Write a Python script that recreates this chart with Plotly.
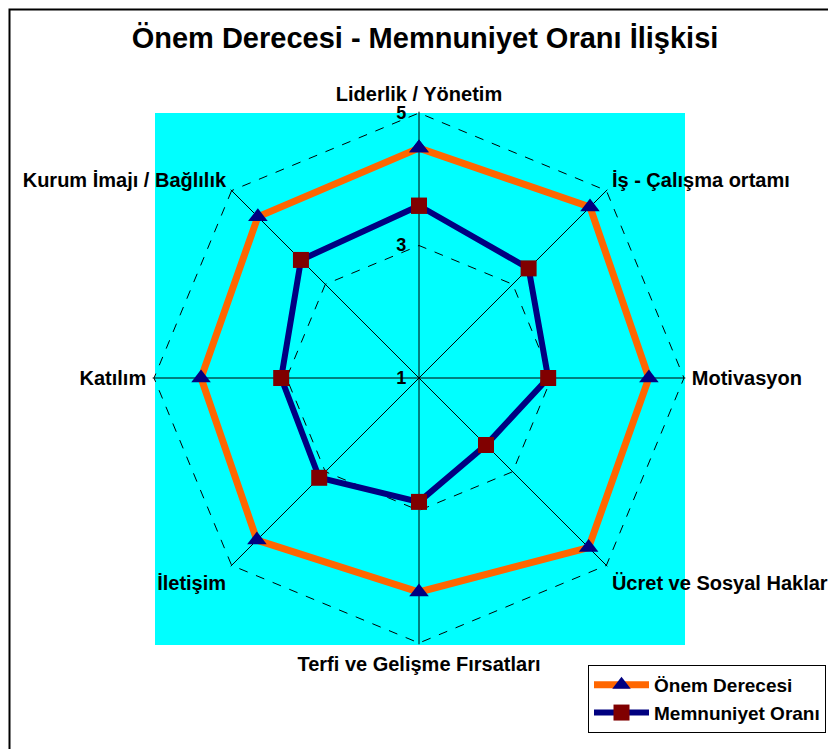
import plotly.graph_objects as go

categories = ["Liderlik / Yönetim", "İş - Çalışma ortamı", "Motivasyon",
              "Ücret ve Sosyal Haklar", "Terfi ve Gelişme Fırsatları",
              "İletişim", "Katılım", "Kurum İmajı / Bağlılık"]
onem = [4.47, 4.65, 4.47, 4.62, 4.23, 4.46, 4.29, 4.44]
memnuniyet = [3.60, 3.34, 2.95, 2.43, 2.87, 3.13, 3.08, 3.52]
radial_ticks = [1, 3, 5]

W, H = 836, 749
OFF = 8  # page body margin
def px(x): return (x - OFF) / W
def py(y): return 1 - (y - OFF) / H

RMAX = 5.02
cx, cy, r5 = 419, 378, 265
rad = r5 * (RMAX - 1) / 4

fig = go.Figure()
fig.add_trace(go.Scatterpolar(
    r=onem + onem[:1], theta=categories + categories[:1],
    mode="lines+markers", name="<b>Önem Derecesi</b>",
    line=dict(color="#FF6600", width=7),
    marker=dict(symbol="triangle-up", size=17, color="#000080"),
))
fig.add_trace(go.Scatterpolar(
    r=memnuniyet + memnuniyet[:1], theta=categories + categories[:1],
    mode="lines+markers", name="<b>Memnuniyet Oranı</b>",
    line=dict(color="#000080", width=6),
    marker=dict(symbol="square", size=16, color="#800000"),
))

fam = "Liberation Sans, Arial"

fig.update_layout(
    width=W, height=H,
    margin=dict(l=0, r=0, t=0, b=0),
    paper_bgcolor="white",
    title=dict(text="<b>Önem Derecesi - Memnuniyet Oranı İlişkisi</b>",
               x=px(425), xanchor="center", y=py(38), yanchor="middle",
               font=dict(family=fam, size=29, color="black")),
    polar=dict(
        domain=dict(x=[px(cx - rad), px(cx + rad)], y=[py(cy + rad), py(cy - rad)]),
        bgcolor="rgba(0,0,0,0)",
        gridshape="linear",
        radialaxis=dict(
            range=[1, RMAX], tickvals=radial_ticks,
            ticktext=[f"<b>{v}</b>" for v in radial_ticks],
            angle=90, side="counterclockwise", tickangle=90,
            showline=False, gridcolor="black", griddash="dash", gridwidth=1,
            tickfont=dict(family=fam, size=18, color="black"),
            ticks="outside", ticklen=6, tickcolor="rgba(0,0,0,0)",
        ),
        angularaxis=dict(
            rotation=90, direction="clockwise",
            showline=False, gridcolor="black", gridwidth=1,
            tickfont=dict(family=fam, size=20, color="black"),
            ticks="outside", ticklen=2, tickcolor="rgba(0,0,0,0)",
            tickvals=categories, ticktext=[f"<b>{c}</b>" for c in categories],
        ),
    ),
    legend=dict(
        x=px(588), y=py(665), xanchor="left", yanchor="top",
        bordercolor="black", borderwidth=1, bgcolor="white",
        font=dict(family=fam, size=19, color="black"),
        itemwidth=55, tracegroupgap=0,
    ),
    shapes=[
        dict(type="rect", xref="paper", yref="paper", x0=px(155), x1=px(685),
             y0=py(645), y1=py(113), fillcolor="#00FFFF", line=dict(width=0), layer="below"),
        dict(type="rect", xref="paper", yref="paper", x0=1.5 / W, x1=1.05,
             y0=-0.05, y1=1 - 1.5 / H, line=dict(color="black", width=2), layer="above"),
    ],
)

fig.write_html("out.html")
